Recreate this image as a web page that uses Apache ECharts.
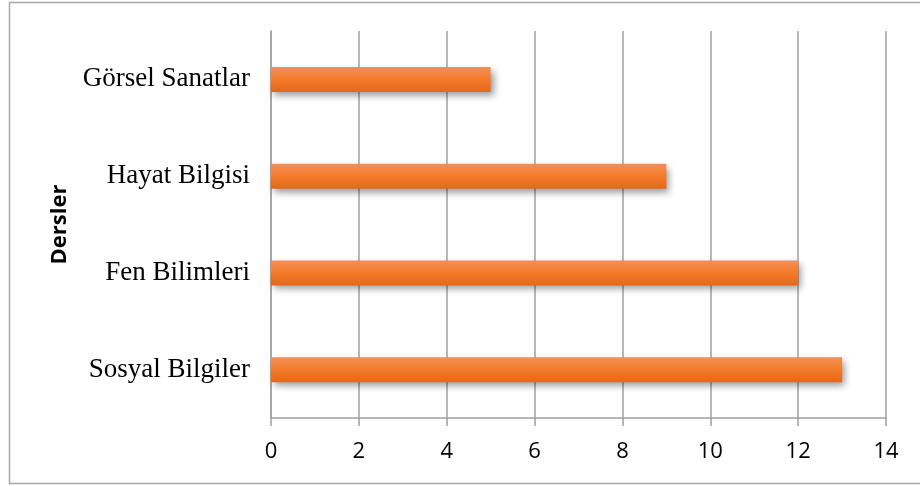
<!DOCTYPE html>
<html>
<head>
<meta charset="utf-8">
<script src="https://cdn.jsdelivr.net/npm/echarts@6/dist/echarts.min.js"></script>
<style>html,body{margin:0;padding:0;background:#fff}#c{width:920px;height:486px}</style>
</head>
<body>
<div id="c"></div>
<script>
const categories = ["Sosyal Bilgiler", "Fen Bilimleri", "Hayat Bilgisi", "Görsel Sanatlar"];
const values = [13, 12, 9, 5];
const axisName = "Dersler";
const xMin = 0, xMax = 14, xStep = 2;

const chart = echarts.init(document.getElementById('c'), null, {renderer: 'canvas'});
chart.setOption({
  animation: false,
  backgroundColor: '#fff',
  graphic: [{
    type: 'rect', shape: {x: 9.5, y: 2.5, width: 920, height: 481},
    style: {fill: 'none', stroke: '#A6A6A6', lineWidth: 1.5}, z: -1
  }],
  grid: {left: 271, right: 34, top: 31, bottom: 68, containLabel: false},
  xAxis: {
    type: 'value', min: xMin, max: xMax, interval: xStep,
    axisLine: {show: true, lineStyle: {color: '#A0A0A0', width: 1.5}},
    axisTick: {show: true, length: 8, lineStyle: {color: '#A0A0A0', width: 1.5}},
    splitLine: {show: true, lineStyle: {color: '#A0A0A0', width: 1.5}},
    axisLabel: {color: '#000', fontFamily: 'Open Sans, Liberation Sans, sans-serif', fontSize: 22, margin: 23}
  },
  yAxis: {
    type: 'category', data: categories,
    name: axisName, nameLocation: 'middle', nameGap: 200, nameRotate: 90,
    nameTextStyle: {fontFamily: 'Open Sans, Liberation Sans, sans-serif', fontWeight: 'bold', fontSize: 22, color: '#000'},
    axisLine: {show: true, lineStyle: {color: '#A0A0A0', width: 1.5}},
    axisTick: {show: false},
    axisLabel: {color: '#000', fontFamily: 'Liberation Serif, Times New Roman, serif', fontSize: 27, margin: 21}
  },
  series: [{
    type: 'bar', data: values, barWidth: 25,
    itemStyle: {
      color: new echarts.graphic.LinearGradient(0, 0, 0, 1, [
        {offset: 0, color: '#F29058'},
        {offset: 0.5, color: '#F47B2A'},
        {offset: 1, color: '#E2691B'}
      ]),
      shadowColor: 'rgba(0,0,0,0.4)', shadowBlur: 7, shadowOffsetX: 3, shadowOffsetY: 4
    }
  }]
});
</script>
</body>
</html>
